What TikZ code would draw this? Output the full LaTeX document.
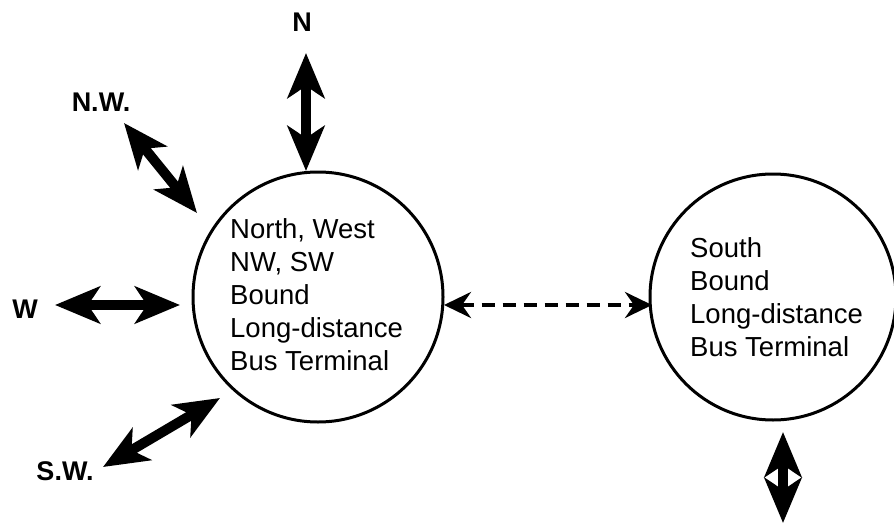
\documentclass[tikz,border=0pt]{standalone}
\usepackage{fontspec}
\setmainfont{Liberation Sans}
\usetikzlibrary{arrows.meta}
\tikzset{
  term/.style={draw, circle, line width=3pt, minimum size=250pt, inner sep=0pt},
  termtext/.style={anchor=north west, align=left, inner sep=0pt, font=\fontsize{27.5}{33}\selectfont},
  dirlabel/.style={font=\fontsize{27}{30}\selectfont\bfseries, inner sep=0pt},
  bigarrow/.style={line width=10pt, {Stealth[length=45pt, width=37pt, inset=12pt]}-{Stealth[length=45pt, width=37pt, inset=12pt]}},
  dasharrow/.style={line width=4pt, dash pattern=on 13pt off 8pt, {Stealth[length=27pt, width=26pt, inset=9pt]}-{Stealth[length=27pt, width=26pt, inset=9pt]}}
}
\begin{document}
\begin{tikzpicture}[x=1pt, y=-1pt]
\useasboundingbox (0,0) rectangle (894,524);
\fill[white] (0,0) rectangle (894,524);
% terminals
\node[term] (L) at (318,297) {};
\node[term, minimum size=246pt] (R) at (773,297) {};
\node[termtext] (Ltext) at (230,218) {North, West\\NW, SW\\Bound\\Long-distance\\Bus Terminal};
\node[termtext] (Rtext) at (690,237) {South\\Bound\\Long-distance\\Bus Terminal};
% direction labels
\node[dirlabel] (N) at (302,22) {N};
\node[dirlabel] (NW) at (101,102) {N.W.};
\node[dirlabel] (W) at (25,309) {W};
\node[dirlabel] (SW) at (65,471) {S.W.};
% arrow end points
\coordinate (Na) at (306,53);
\coordinate (Nb) at (306,171);
\coordinate (NWa) at (124,123);
\coordinate (NWb) at (197,213);
\coordinate (Wa) at (55,305);
\coordinate (Wb) at (180,305);
\coordinate (SWa) at (103,467);
\coordinate (SWb) at (220,398);
\coordinate (Sa) at (783,432);
\coordinate (Sb) at (783,523);
\coordinate (La) at (444,305);
\coordinate (Ra) at (652,305);
% arrows
\draw[bigarrow] (Na) -- (Nb);
\draw[bigarrow] (NWa) -- (NWb);
\draw[bigarrow] (Wa) -- (Wb);
\draw[bigarrow] (SWa) -- (SWb);
\draw[bigarrow] (Sa) -- (Sb);
\draw[dasharrow] (La) -- (Ra);
\end{tikzpicture}
\end{document}
